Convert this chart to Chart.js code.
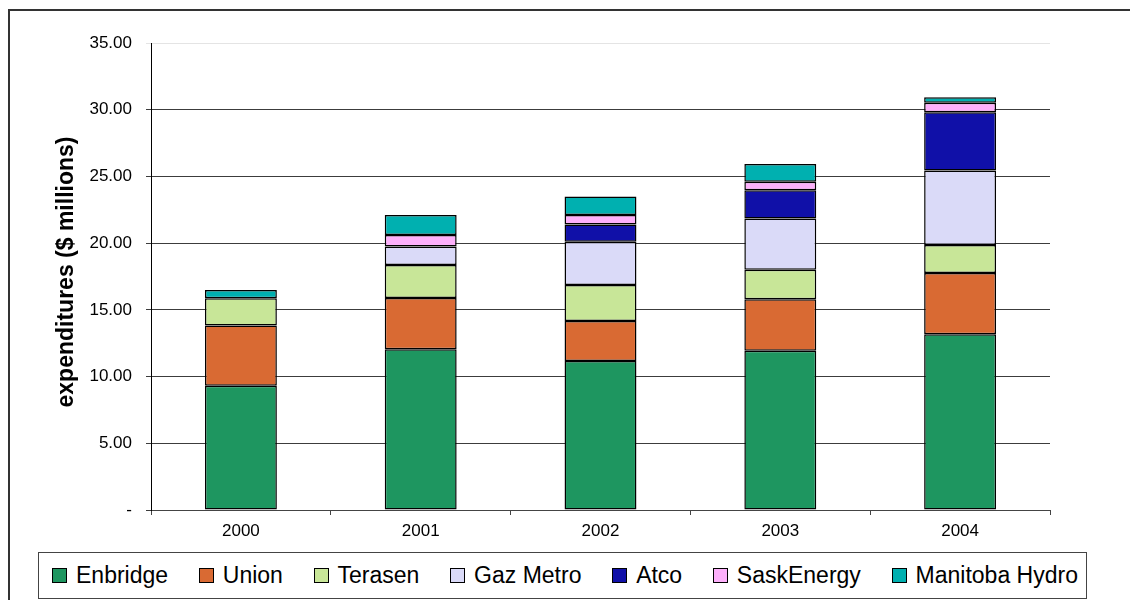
<!DOCTYPE html>
<html>
<head>
<meta charset="utf-8">
<script src="https://cdn.jsdelivr.net/npm/chart.js@4.4.1/dist/chart.umd.min.js"></script>
<style>
    body { margin: 0; background: #fff; font-family: Arial, "Liberation Sans", sans-serif; }
    #wrap { position: relative; width: 1130px; height: 600px; overflow: hidden; }
    #frame { position: absolute; left: 8px; top: 9px; width: 1200px; height: 700px; border-left: 2px solid #333; border-top: 2px solid #333; }
    #cv { position: absolute; left: 0; top: 0; }
    #legend {
        position: absolute; left: 38px; top: 552px; width: 1049px; height: 47px;
        border: 1px solid #444; box-sizing: border-box; background: #fff;
        display: flex; align-items: center; justify-content: space-between;
        padding: 0 8px 0 13px; font-size: 23px; color: #000;
    }
    .item { display: flex; align-items: center; white-space: nowrap; }
    .sw { width: 13px; height: 13px; border: 1px solid #000; margin-right: 9px; }
</style>
</head>
<body>
<div id="wrap">
    <div id="frame"></div>
    <canvas id="cv" width="1130" height="600"></canvas>
    <div id="legend"></div>
</div>
<script>
// Data (values in $ millions)
const years = ['2000', '2001', '2002', '2003', '2004'];
const companies = ['Enbridge', 'Union', 'Terasen', 'Gaz Metro', 'Atco', 'SaskEnergy', 'Manitoba Hydro'];
const enbridge = [9.32, 12.05, 11.17, 11.94, 13.17];
const union = [4.50, 3.84, 3.00, 3.85, 4.60];
const terasen = [2.05, 2.48, 2.70, 2.22, 2.10];
const gazMetro = [0, 1.37, 3.24, 3.83, 5.57];
const atco = [0, 0, 1.28, 2.13, 4.37];
const saskEnergy = [0, 0.87, 0.72, 0.64, 0.72];
const manitobaHydro = [0.62, 1.50, 1.38, 1.33, 0.41];
const yTicks = [0, 5, 10, 15, 20, 25, 30, 35];

const colors = ['#1e9660', '#d96a33', '#c8e698', '#dadaf8', '#1010a8', '#fdb0fb', '#00b0b0'];
const series = [enbridge, union, terasen, gazMetro, atco, saskEnergy, manitobaHydro];

// y-axis title drawn beside the plot
const yTitle = {
    id: 'yTitle',
    afterDraw(chart) {
        const ctx = chart.ctx;
        ctx.save();
        ctx.translate(67, 272);
        ctx.rotate(-Math.PI / 2);
        ctx.font = 'bold 23px Arial, "Liberation Sans"';
        ctx.fillStyle = '#000';
        ctx.textAlign = 'center';
        ctx.textBaseline = 'middle';
        ctx.fillText('expenditures ($ millions)', 0, 0);
        ctx.restore();
    }
};

const ctx = document.getElementById('cv').getContext('2d');
const chart = new Chart(ctx, {
    type: 'bar',
    data: {
        labels: years,
        datasets: companies.map((name, i) => ({
            label: name,
            data: series[i],
            backgroundColor: colors[i],
            borderColor: '#000',
            borderWidth: 1.5,
            borderSkipped: false,
            barPercentage: 0.4,
            categoryPercentage: 1.0
        }))
    },
    options: {
        responsive: false,
        animation: false,
        layout: { padding: { left: 0, right: 80, top: 43, bottom: 60 } },
        plugins: { legend: { display: false }, tooltip: { enabled: false } },
        scales: {
            x: {
                stacked: true,
                offset: true,
                border: { color: '#444', width: 1 },
                grid: { offset: true, drawOnChartArea: false, drawTicks: true, tickLength: 5, color: '#444' },
                ticks: { color: '#000', font: { size: 17, family: 'Arial, "Liberation Sans"' }, padding: 6 },
                afterFit: s => { s.height = 30; }
            },
            y: {
                stacked: true,
                min: 0,
                max: 35,
                afterBuildTicks: s => { s.ticks = yTicks.map(v => ({ value: v })); },
                border: { color: '#000', width: 1 },
                grid: {
                    color: c => c.tick && c.tick.value === 35 ? '#e4e4e4' : '#3c3c3c',
                    tickLength: 5,
                    drawTicks: true
                },
                ticks: {
                    color: '#000',
                    font: { size: 17, family: 'Arial, "Liberation Sans"' },
                    padding: 14,
                    callback: v => v === 0 ? '-' : v.toFixed(2)
                },
                afterFit: s => { s.width = 151; }
            }
        }
    },
    plugins: [yTitle]
});

// HTML legend built from the same arrays
const legend = document.getElementById('legend');
companies.forEach((name, i) => {
    const item = document.createElement('div');
    item.className = 'item';
    item.innerHTML = `<span class="sw" style="background:${colors[i]}"></span><span>${name}</span>`;
    legend.appendChild(item);
});
</script>
</body>
</html>
